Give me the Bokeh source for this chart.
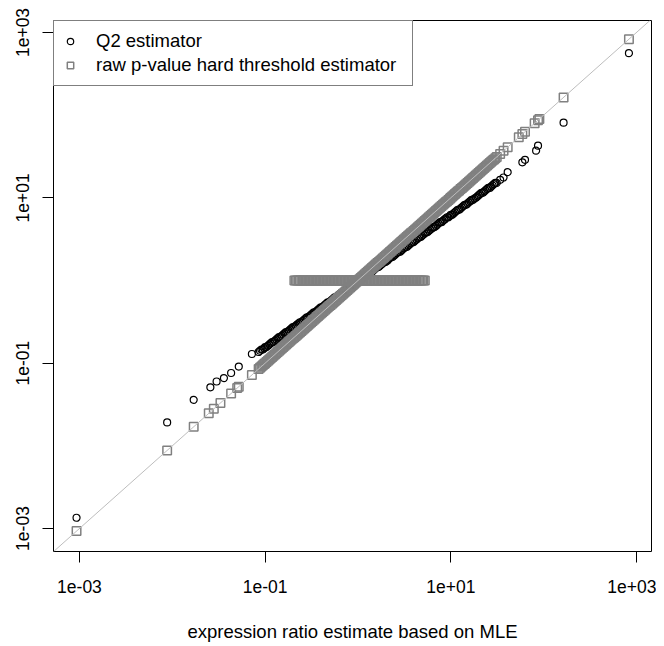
from bokeh.plotting import figure
from bokeh.models import Range1d, FixedTicker, Legend, LegendItem, Slope
from bokeh.embed import file_html
from bokeh.resources import INLINE

# ---------------- data ----------------
# MLE ratios of the genes in the dense central band (shared x of both series)
mle_dense = [
    0.0851, 0.0881, 0.0912, 0.0944, 0.0977,
    0.1, 0.1035, 0.1072, 0.1109, 0.1148, 0.1189, 0.123, 0.1274, 0.1318, 0.1365,
    0.1413, 0.1462, 0.1514, 0.1567, 0.1622, 0.1679, 0.1738, 0.1799, 0.1862,
    0.1928, 0.1995, 0.2065, 0.2138, 0.2213, 0.2291, 0.2371, 0.2455, 0.2541,
    0.263, 0.2723, 0.2818, 0.2917, 0.302, 0.3126, 0.3236, 0.335, 0.3467, 0.3589,
    0.3715, 0.3846, 0.3981, 0.4121, 0.4266, 0.4416, 0.4571, 0.4732, 0.4898,
    0.507, 0.5248, 0.5433, 0.5623, 0.5821, 0.6026, 0.6237, 0.6457, 0.6683,
    0.6918, 0.7161, 0.7413, 0.7674, 0.7943, 0.8222, 0.8511, 0.881, 0.912,
    0.9441, 0.9772,
    1.0, 1.035, 1.072, 1.109, 1.148, 1.189, 1.23, 1.274, 1.318, 1.365, 1.413,
    1.462, 1.514, 1.567, 1.622, 1.679, 1.738, 1.799, 1.862, 1.928, 1.995, 2.065,
    2.138, 2.213, 2.291, 2.371, 2.455, 2.541, 2.63, 2.723, 2.818, 2.917, 3.02,
    3.126, 3.236, 3.35, 3.467, 3.589, 3.715, 3.846, 3.981, 4.121, 4.266, 4.416,
    4.571, 4.732, 4.898, 5.07, 5.248, 5.433, 5.623, 5.821, 6.026, 6.237, 6.457,
    6.683, 6.918, 7.161, 7.413, 7.674, 7.943, 8.222, 8.511, 8.81, 9.12, 9.441,
    9.772,
    10.0, 10.35, 10.72, 11.09, 11.48, 11.89, 12.3, 12.74, 13.18, 13.65, 14.13,
    14.62, 15.14, 15.67, 16.22, 16.79, 17.38, 17.99, 18.62, 19.28, 19.95, 20.65,
    21.38, 22.13, 22.91, 23.71, 24.55, 25.41, 26.3, 27.23, 28.18, 29.17, 30.2,
    31.26]

# Q2 estimates of those same genes (black band, flatter than the diagonal)
q2_dense = [
    0.1365, 0.1413, 0.1462, 0.1462, 0.1514,
    0.1567, 0.1567, 0.1622, 0.1679, 0.1738, 0.1799, 0.1799, 0.1862, 0.1928,
    0.1995, 0.2065, 0.2065, 0.2138, 0.2213, 0.2291, 0.2371, 0.2371, 0.2455,
    0.2541, 0.263, 0.2723, 0.2723, 0.2818, 0.2917, 0.302, 0.3126, 0.3126,
    0.3236, 0.335, 0.3467, 0.3589, 0.3589, 0.3715, 0.3846, 0.3981, 0.4121,
    0.4121, 0.4266, 0.4416, 0.4571, 0.4732, 0.4732, 0.4898, 0.507, 0.5248,
    0.5433, 0.5433, 0.5623, 0.5821, 0.6026, 0.6237, 0.6237, 0.6457, 0.6683,
    0.6918, 0.7161, 0.7161, 0.7413, 0.7674, 0.7943, 0.8222, 0.8222, 0.8511,
    0.881, 0.912, 0.9441, 0.9441,
    0.9772, 1.0, 1.035, 1.072, 1.109, 1.109, 1.148, 1.189, 1.23, 1.274, 1.274,
    1.318, 1.365, 1.413, 1.462, 1.462, 1.514, 1.567, 1.622, 1.679, 1.679, 1.738,
    1.799, 1.862, 1.928, 1.928, 1.995, 2.065, 2.138, 2.213, 2.213, 2.291, 2.371,
    2.455, 2.541, 2.541, 2.63, 2.723, 2.818, 2.917, 2.917, 3.02, 3.126, 3.236,
    3.35, 3.35, 3.467, 3.589, 3.715, 3.846, 3.846, 3.981, 4.121, 4.266, 4.416,
    4.416, 4.571, 4.732, 4.898, 5.07, 5.07, 5.248, 5.433, 5.623, 5.821, 5.821,
    6.026,
    6.237, 6.237, 6.457, 6.683, 6.918, 7.161, 7.161, 7.413, 7.674, 7.943, 8.222,
    8.222, 8.511, 8.81, 9.12, 9.441, 9.441, 9.772, 10.0, 10.35, 10.72, 11.09,
    11.48, 11.48, 11.89, 12.3, 12.74, 13.18, 13.18, 13.65, 14.13, 14.62, 15.14,
    15.14]

# isolated genes outside the dense band
q2_sparse_x = [0.00093, 0.0088, 0.017, 0.0257, 0.030, 0.036, 0.043, 0.052,
               0.072, 34.0, 37.0, 41.0, 59.0, 63.0, 83.0, 87.0, 164.0, 830.0]
q2_sparse_y = [0.00135, 0.0192, 0.036, 0.051, 0.060, 0.066, 0.076, 0.091,
               0.129, 16.5, 17.6, 20.4, 26.9, 28.8, 37.2, 42.7, 81.0, 562.0]

# raw p-value hard threshold: significant genes keep their MLE (on diagonal)
raw_sig_sparse = [0.00093, 0.0088, 0.017, 0.0247, 0.028, 0.033, 0.043, 0.05,
                  0.052, 0.072, 34.0, 37.0, 41.0, 54.0, 59.0, 63.0, 80.0,
                  87.0, 90.0, 164.0, 830.0]
# non-significant genes are set to 1 (horizontal band)
raw_ns_x = [
    0.2065, 0.2138, 0.2213, 0.2291, 0.2371, 0.2455, 0.2541, 0.263, 0.2723,
    0.2818, 0.2917, 0.302, 0.3126, 0.3236, 0.335, 0.3467, 0.3589, 0.3715,
    0.3846, 0.3981, 0.4121, 0.4266, 0.4416, 0.4571, 0.4732, 0.4898, 0.507,
    0.5248, 0.5433, 0.5623, 0.5821, 0.6026, 0.6237, 0.6457, 0.6683, 0.6918,
    0.7161, 0.7413, 0.7674, 0.7943, 0.8222, 0.8511, 0.881, 0.912, 0.9441,
    0.9772, 1.0, 1.035, 1.072, 1.109, 1.148, 1.189, 1.23, 1.274, 1.318, 1.365,
    1.413, 1.462, 1.514, 1.567, 1.622, 1.679, 1.738, 1.799, 1.862, 1.928,
    1.995, 2.065, 2.138, 2.213, 2.291, 2.371, 2.455, 2.541, 2.63, 2.723, 2.818,
    2.917, 3.02, 3.126, 3.236, 3.35, 3.467, 3.589, 3.715, 3.846, 3.981, 4.121,
    4.266, 4.416, 4.571, 4.732, 4.898, 5.07, 5.248]
raw_ns_y = [
    1, 1, 1, 1, 1, 1, 1, 1, 1, 1, 1, 1, 1, 1, 1, 1, 1, 1, 1, 1, 1, 1, 1, 1, 1,
    1, 1, 1, 1, 1, 1, 1, 1, 1, 1, 1, 1, 1, 1, 1, 1, 1, 1, 1, 1, 1, 1, 1, 1, 1,
    1, 1, 1, 1, 1, 1, 1, 1, 1, 1, 1, 1, 1, 1, 1, 1, 1, 1, 1, 1, 1, 1, 1, 1, 1,
    1, 1, 1, 1, 1, 1, 1, 1, 1, 1, 1, 1, 1, 1, 1, 1, 1, 1, 1, 1]

tick_values = [0.001, 0.1, 10, 1000]
tick_labels = ["1e-03", "1e-01", "1e+01", "1e+03"]
series_names = ["Q2 estimator", "raw p-value hard threshold estimator"]
x_title = "expression ratio estimate based on MLE"

# series assembled from the lists above
q2_x = q2_sparse_x + mle_dense
q2_y = q2_sparse_y + q2_dense
raw_x = raw_sig_sparse + mle_dense + raw_ns_x
raw_y = raw_sig_sparse + mle_dense + raw_ns_y

FONT = "Liberation Sans"
GREY = "#808080"

p = figure(width=656, height=644, x_axis_type="log", y_axis_type="log",
           x_range=Range1d(5.25e-4, 1452), y_range=Range1d(5.27e-4, 1396),
           output_backend="svg", toolbar_location=None,
           min_border_left=53, min_border_right=5, min_border_top=20,
           min_border_bottom=93)
p.grid.visible = False
p.outline_line_color = "black"
p.outline_line_width = 1
p.background_fill_color = "white"
p.border_fill_color = "white"

r_q2 = p.scatter(q2_x, q2_y, marker="circle", size=7, fill_color=None,
                 line_color="black", line_width=1.2)
r_raw = p.scatter(raw_x, raw_y, marker="square", size=8.5, fill_color=None,
                  line_color=GREY, line_width=1.5)

p.add_layout(Slope(gradient=1, y_intercept=0, line_color="#bdbdbd",
                   line_width=1))

overrides = {v: lab for v, lab in zip(tick_values, tick_labels)}
for ax in (p.xaxis[0], p.yaxis[0]):
    ax.ticker = FixedTicker(ticks=tick_values, minor_ticks=[])
    ax.major_label_overrides = overrides
    ax.axis_line_color = None
    ax.major_tick_in = 0
    ax.major_tick_out = 11
    ax.major_tick_line_color = "black"
    ax.minor_tick_line_color = None
    ax.major_label_text_font = FONT
    ax.major_label_text_font_size = "17.5px"
    ax.major_label_text_color = "black"

p.xaxis[0].major_label_standoff = 17
p.yaxis[0].major_label_standoff = 13
p.yaxis[0].major_label_orientation = "vertical"

p.xaxis[0].axis_label = x_title
p.xaxis[0].axis_label_text_font = FONT
p.xaxis[0].axis_label_text_font_size = "18.5px"
p.xaxis[0].axis_label_text_font_style = "normal"
p.xaxis[0].axis_label_text_color = "black"
p.xaxis[0].axis_label_standoff = 25

legend = Legend(items=[LegendItem(label=series_names[0], renderers=[r_q2]),
                       LegendItem(label=series_names[1], renderers=[r_raw])],
                location="top_left", margin=0, padding=8, spacing=0,
                glyph_width=16, glyph_height=24, label_height=24,
                label_width=308, label_standoff=18,
                label_text_font=FONT, label_text_font_size="18.5px",
                label_text_color="black",
                border_line_color="black", border_line_width=1,
                background_fill_color="white", background_fill_alpha=1)
p.add_layout(legend)

open("out.html", "w").write(file_html(p, INLINE))
